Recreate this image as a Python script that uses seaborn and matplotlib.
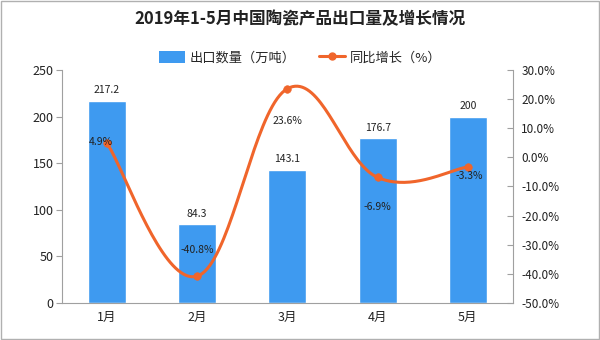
import numpy as np
import matplotlib
matplotlib.use("Agg")
import matplotlib.pyplot as plt
import seaborn as sns
from matplotlib.patches import Patch
from matplotlib.lines import Line2D

months = ["1月", "2月", "3月", "4月", "5月"]
volume = [217.2, 84.3, 143.1, 176.7, 200]
growth = [4.9, -40.8, 23.6, -6.9, -3.3]
vol_labels = ["217.2", "84.3", "143.1", "176.7", "200"]
growth_labels = ["4.9%", "-40.8%", "23.6%", "-6.9%", "-3.3%"]

sns.set_style("white")
plt.rcParams['font.family'] = ['Noto Sans CJK SC', 'DejaVu Sans']

BLUE = "#3e9af0"
ORANGE = "#f0652b"
GRAY = "#a0a0a0"

fig = plt.figure(figsize=(6, 3.4), dpi=100)
ax = fig.add_axes([0.103, 0.109, 0.752, 0.685])
sns.barplot(x=months, y=volume, ax=ax, color=BLUE, width=0.42, saturation=1)
ax.set_xlim(-0.5, 4.5)
ax.set_ylim(0, 250)
ax.set_yticks(range(0, 251, 50))
for i, (v, lab) in enumerate(zip(volume, vol_labels)):
    ax.text(i, v + 6, lab, ha="center", va="bottom", fontsize=7.5, color="#222222")

ax2 = ax.twinx()
ax2.set_ylim(-50, 30)
ax2.set_yticks(range(-50, 31, 10))
ax2.set_yticklabels([f"{t}.0%" for t in range(-50, 31, 10)])

# smooth curve (Catmull-Rom style bezier) through the data points
xs = np.arange(len(growth), dtype=float)
ys = np.array(growth, dtype=float)
curve_x, curve_y = [], []
k = 0.38
for i in range(len(xs) - 1):
    p0 = (xs[max(i - 1, 0)], ys[max(i - 1, 0)])
    p1 = (xs[i], ys[i])
    p2 = (xs[i + 1], ys[i + 1])
    p3 = (xs[min(i + 2, len(xs) - 1)], ys[min(i + 2, len(xs) - 1)])
    c1 = (p1[0] + (p2[0] - p0[0]) * k / 2, p1[1] + (p2[1] - p0[1]) * k / 2)
    c2 = (p2[0] - (p3[0] - p1[0]) * k / 2, p2[1] - (p3[1] - p1[1]) * k / 2)
    t = np.linspace(0, 1, 40)
    bx = (1-t)**3*p1[0] + 3*(1-t)**2*t*c1[0] + 3*(1-t)*t**2*c2[0] + t**3*p2[0]
    by = (1-t)**3*p1[1] + 3*(1-t)**2*t*c1[1] + 3*(1-t)*t**2*c2[1] + t**3*p2[1]
    curve_x.extend(bx); curve_y.extend(by)
ax2.plot(curve_x, curve_y, color=ORANGE, lw=2.2, zorder=3)
sns.scatterplot(x=xs, y=ys, ax=ax2, color=ORANGE, s=30, edgecolor=ORANGE, zorder=4, legend=False)

offsets = [(-0.07, 0.5), (0, 9), (0, -11), (0, -10), (0.02, -3)]
for i, (g, lab) in enumerate(zip(growth, growth_labels)):
    dx, dy = offsets[i]
    ax2.text(i + dx, g + dy, lab, ha="center", va="center", fontsize=7.5, color="#222222", zorder=5)

for a in (ax, ax2):
    for s in a.spines.values():
        s.set_visible(False)
ax.spines["left"].set_visible(True)
ax.spines["left"].set_color(GRAY)
ax.spines["bottom"].set_visible(True)
ax.spines["bottom"].set_color(GRAY)
ax2.spines["right"].set_visible(True)
ax2.spines["right"].set_color(GRAY)

ax.tick_params(axis="y", length=4, color=GRAY, labelsize=9, labelcolor="#222222", pad=2, left=True)
ax.tick_params(axis="x", length=0, labelsize=9, labelcolor="#222222", pad=6)
ax2.tick_params(axis="y", length=4, direction="in", color=GRAY, labelsize=8.5, labelcolor="#222222", pad=6, right=True)
ax.set_xlabel(""); ax.set_ylabel("")

fig.text(0.5, 0.945, "2019年1-5月中国陶瓷产品出口量及增长情况", ha="center", va="center",
         fontsize=12, fontweight="bold", color="#222222")
handles = [Patch(facecolor=BLUE, edgecolor="none"),
           Line2D([0], [0], color=ORANGE, lw=2.2, marker="o", markersize=5)]
fig.legend(handles, ["出口数量（万吨）", "同比增长（%）"], loc="center", bbox_to_anchor=(0.5, 0.83),
           ncol=2, frameon=False, fontsize=9.5, handlelength=2.0, handleheight=1.0,
           columnspacing=1.8, handletextpad=0.3)

fig.patches.append(plt.Rectangle((0.002, 0.003), 0.996, 0.994, transform=fig.transFigure,
                                 fill=False, edgecolor="#b0b0b0", lw=1))
fig.savefig("out.png", dpi=100)
